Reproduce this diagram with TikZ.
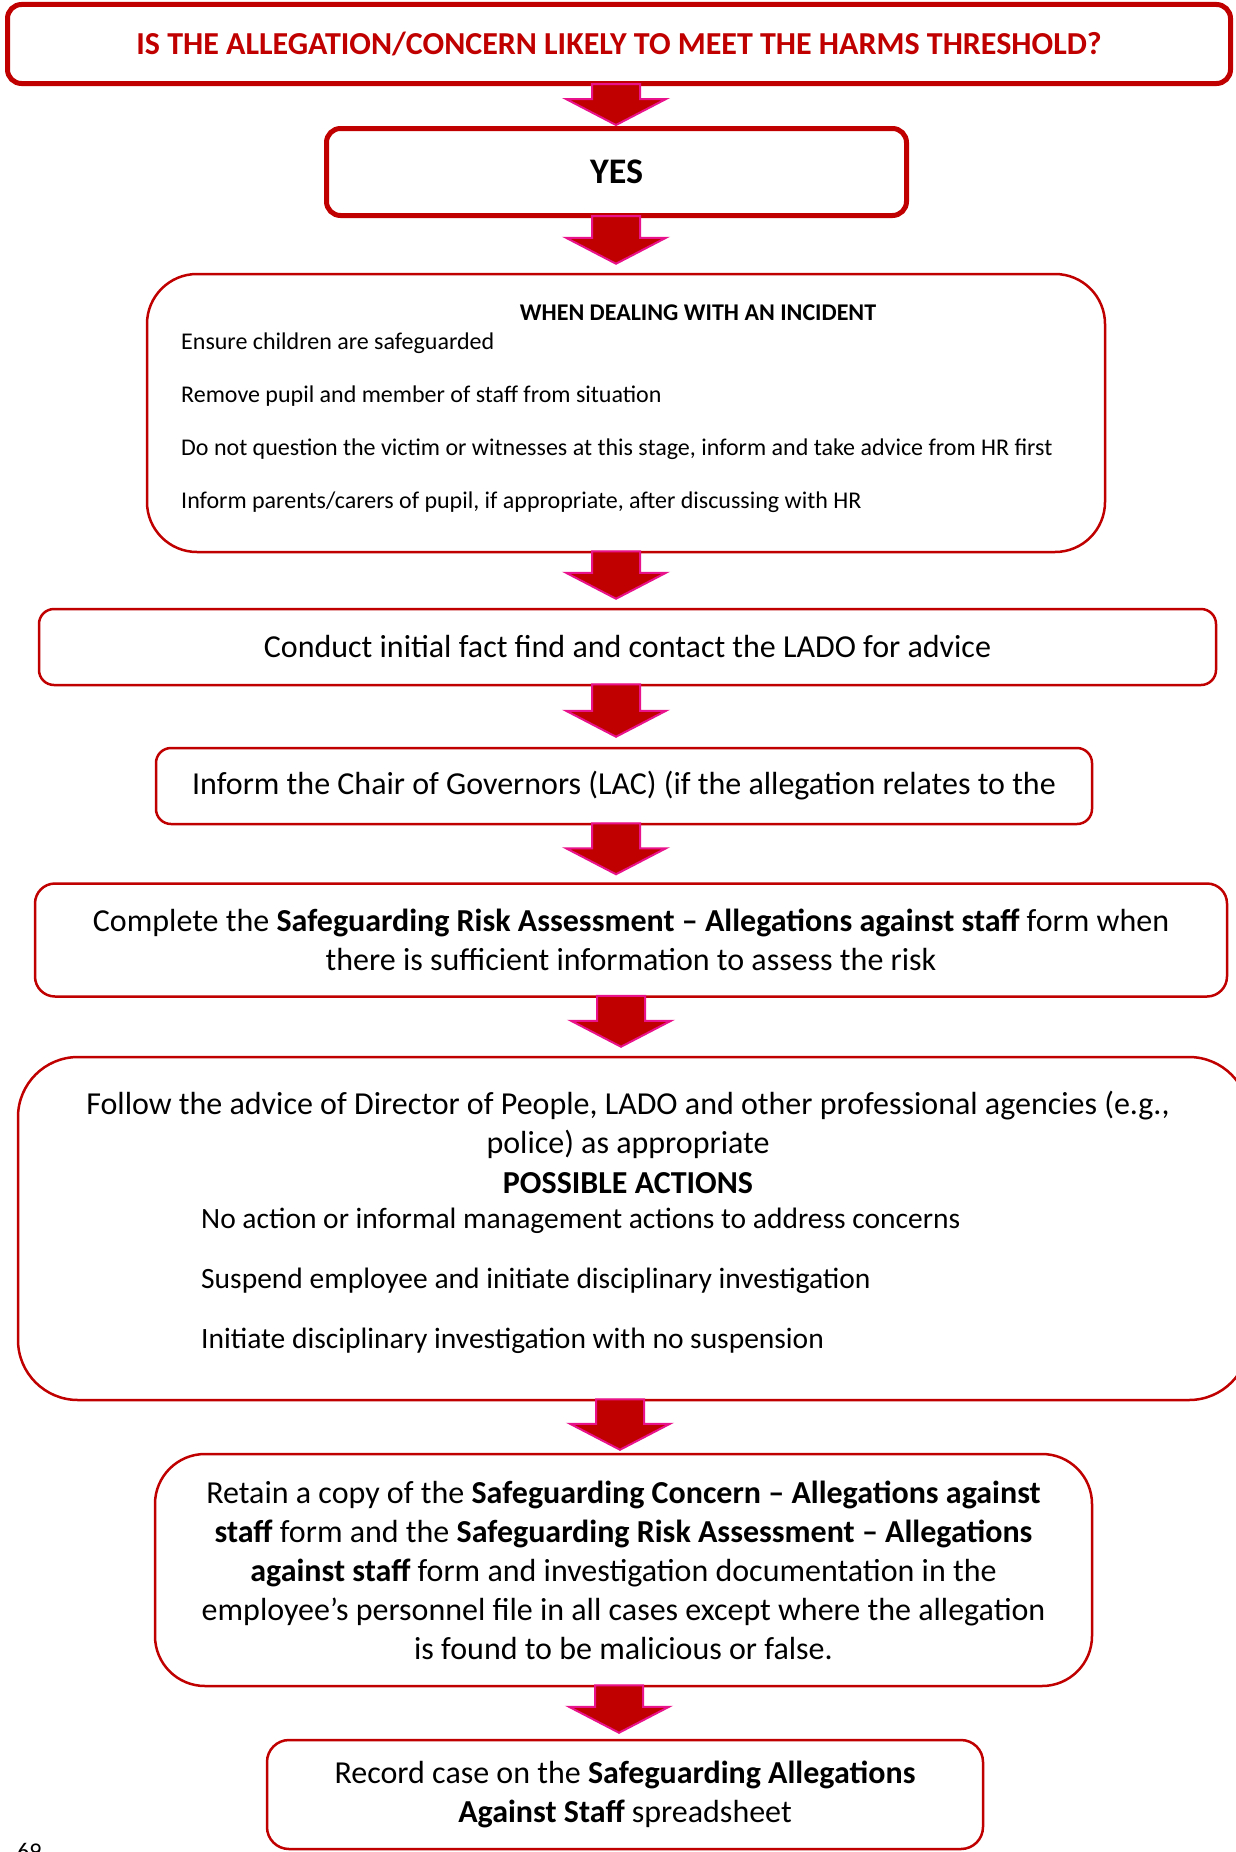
\documentclass[tikz,border=0pt]{standalone}
\usepackage{fontspec}
\setmainfont{Carlito}
\usetikzlibrary{calc}
\definecolor{boxred}{HTML}{C00000}
\definecolor{arrowedge}{HTML}{E8128A}
\tikzset{
  heavybox/.style={draw=boxred, line width=5pt, rounded corners=14pt, fill=white, inner sep=0pt},
  flowbox/.style={draw=boxred, line width=2.5pt, fill=white, inner sep=0pt},
  bodytext/.style={font=\fontsize{32}{39}\selectfont, align=center},
  smalltext/.style={font=\fontsize{24}{29}\selectfont, inner sep=0pt},
  actiontext/.style={font=\fontsize{29.5}{36}\selectfont, inner sep=0pt, anchor=west},
  downarrow/.style={fill=boxred, draw=arrowedge, line width=2pt, line join=miter},
}
% block arrow: from box, to box, axis x (px), gap above the lower box (px)
\newcommand\flowarrow[4]{%
  \draw[downarrow] let \p1=(#1.south), \p2=(#2.north) in
    (#3pt-24pt,\y1+2pt) -- (#3pt+24pt,\y1+2pt) -- (#3pt+24pt,\y2+#4pt+26pt)
    -- (#3pt+50pt,\y2+#4pt+26pt) -- (#3pt,\y2+#4pt) -- (#3pt-50pt,\y2+#4pt+26pt)
    -- (#3pt-24pt,\y2+#4pt+26pt) -- cycle;}
\begin{document}
\begin{tikzpicture}[x=1pt,y=-1pt]
\useasboundingbox[fill=white] (0,0) rectangle (1235,1852);

% question and answer
\node[heavybox, minimum width=1223pt, minimum height=79pt, text=boxred,
      font=\fontsize{32}{38}\selectfont\bfseries] (question) at (619,44)
  {IS THE ALLEGATION/CONCERN LIKELY TO MEET THE HARMS THRESHOLD?};
\node[heavybox, minimum width=580pt, minimum height=87pt,
      font=\fontsize{36}{42}\selectfont\bfseries] (yes) at (616.5,172) {YES};

% immediate steps
\node[flowbox, rounded corners=50pt, minimum width=958pt, minimum height=278pt] (incident) at (626,413) {};
\node[smalltext, font=\fontsize{24}{29}\selectfont\bfseries] (inchead) at (698,313) {WHEN DEALING WITH AN INCIDENT};
\node[smalltext, anchor=west] (inc1) at (181,343) {Ensure children are safeguarded};
\node[smalltext, anchor=west] (inc2) at (181,396) {Remove pupil and member of staff from situation};
\node[smalltext, anchor=west] (inc3) at (181,449) {Do not question the victim or witnesses at this stage, inform and take advice from HR first};
\node[smalltext, anchor=west] (inc4) at (181,502) {Inform parents/carers of pupil, if appropriate, after discussing with HR};

% fact find and informing
\node[flowbox, rounded corners=15pt, minimum width=1177pt, minimum height=76pt, bodytext] (fact) at (627.5,647)
  {Conduct initial fact find and contact the LADO for advice};
\node[flowbox, rounded corners=15pt, minimum width=936pt, minimum height=76pt, bodytext] (chair) at (624,786)
  {Inform the Chair of Governors (LAC) (if the allegation relates to the};
\node[flowbox, rounded corners=20pt, minimum width=1192pt, minimum height=113pt, bodytext] (risk) at (631,940)
  {Complete the \textbf{Safeguarding Risk Assessment – Allegations against staff} form when\\
   there is sufficient information to assess the risk};

% advice and possible actions
\node[flowbox, rounded corners=60pt, minimum width=1231pt, minimum height=343pt] (advice) at (633.5,1228.5) {};
\node[bodytext, inner sep=0pt] (advtext) at (628,1125)
  {Follow the advice of Director of People, LADO and other professional agencies (e.g.,\\
   police) as appropriate};
\node[bodytext, inner sep=0pt, font=\fontsize{32}{39}\selectfont\bfseries] (acthead) at (628,1183) {POSSIBLE ACTIONS};
\node[actiontext] (act1) at (201,1221) {No action or informal management actions to address concerns};
\node[actiontext] (act2) at (201,1281) {Suspend employee and initiate disciplinary investigation};
\node[actiontext] (act3) at (201,1341) {Initiate disciplinary investigation with no suspension};

% records
\node[flowbox, rounded corners=50pt, minimum width=937pt, minimum height=232pt, bodytext] (retain) at (623.5,1570)
  {Retain a copy of the \textbf{Safeguarding Concern – Allegations against}\\
   \textbf{staff} form and the \textbf{Safeguarding Risk Assessment – Allegations}\\
   \textbf{against staff} form and investigation documentation in the\\
   employee’s personnel file in all cases except where the allegation\\
   is found to be malicious or false.};
\node[flowbox, rounded corners=22pt, minimum width=716pt, minimum height=109pt, bodytext] (record) at (625,1794.5)
  {Record case on the \textbf{Safeguarding Allegations}\\
   \textbf{Against Staff} spreadsheet};

% connectors
\flowarrow{question}{yes}{616}{1}
\flowarrow{yes}{incident}{616}{9}
\flowarrow{incident}{fact}{616}{9}
\flowarrow{fact}{chair}{616}{10}
\flowarrow{chair}{risk}{616}{8}
\flowarrow{risk}{advice}{621}{9}
\flowarrow{advice}{retain}{620}{3}
\flowarrow{retain}{record}{619}{6}

% page number
\node[smalltext, anchor=north west] (pageno) at (17,1843) {69};
\end{tikzpicture}
\end{document}
